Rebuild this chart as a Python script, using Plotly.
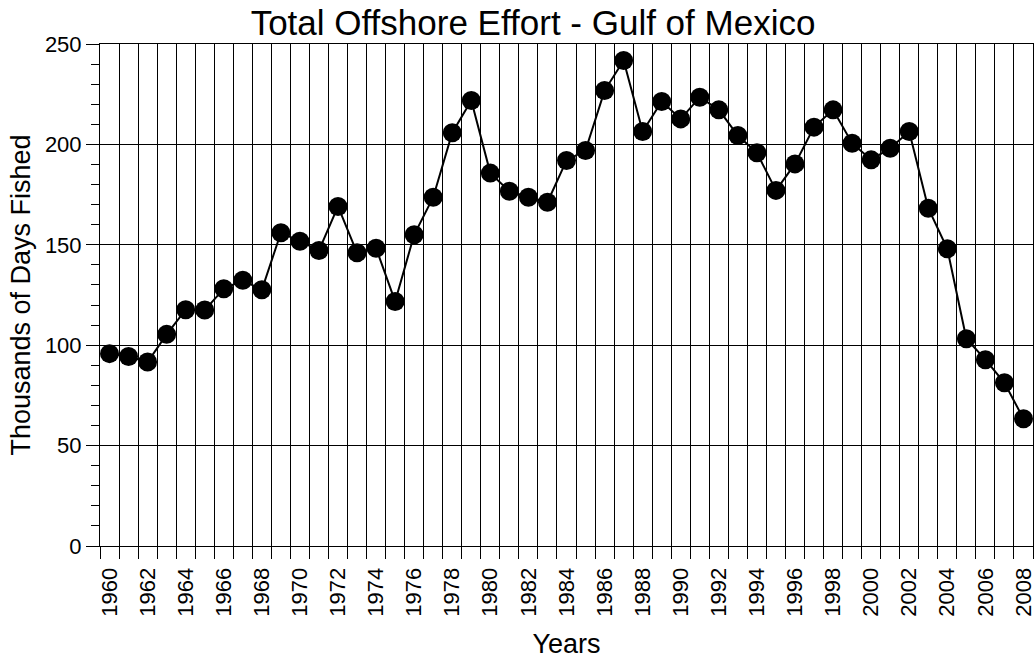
import plotly.graph_objects as go

# yearly offshore effort, thousands of days fished
years = list(range(1960, 2009))
days_fished = [
    95.8, 94.4, 91.6, 105.4, 117.7, 117.5, 128.1, 132.3, 127.6, 156.0,
    151.8, 147.2, 169.1, 146.0, 148.3, 121.8, 155.0, 173.7, 205.8, 221.9,
    185.7, 176.7, 173.7, 171.2, 192.0, 197.0, 226.8, 241.8, 206.4, 221.4,
    212.7, 223.5, 217.2, 204.4, 195.8, 177.1, 190.3, 208.6, 217.2, 200.6,
    192.3, 198.1, 206.4, 168.2, 148.0, 103.2, 92.8, 81.3, 63.4,
]
year_labels = list(range(1960, 2009, 2))
year_bounds = [y - 0.5 for y in range(1960, 2010)]

FONT = "Liberation Sans, Arial, sans-serif"

fig = go.Figure(go.Scatter(
    x=years,
    y=days_fished,
    mode="lines+markers",
    line=dict(color="black", width=2),
    marker=dict(color="black", size=19),
    showlegend=False,
))

fig.update_layout(
    width=1035,
    height=659,
    margin=dict(l=100, r=2, t=44, b=113),
    paper_bgcolor="white",
    plot_bgcolor="white",
    font=dict(family=FONT, color="black", size=22),
    title=dict(text="Total Offshore Effort - Gulf of Mexico", x=0.515, xanchor="center",
               y=0.966, yanchor="middle", font=dict(size=35, color="black")),
)

fig.update_xaxes(
    range=[1959.5, 2008.5],
    tickmode="array",
    tickvals=year_labels,
    ticktext=[str(y) for y in year_labels],
    tickangle=-90,
    ticks="outside",
    ticklen=12,
    tickcolor="rgba(0,0,0,0)",
    ticklabeloverflow="allow",
    showgrid=False,
    zeroline=False,
    showline=True,
    linecolor="black",
    linewidth=1,
    mirror=True,
    automargin=False,
    tickfont=dict(size=22),
    title=dict(text="Years", font=dict(size=27), standoff=22),
    minor=dict(tickmode="array", tickvals=year_bounds, ticks="outside", ticklen=12,
               tickcolor="black", showgrid=True, gridcolor="black", gridwidth=1),
)

fig.update_yaxes(
    range=[0, 250],
    tickmode="linear",
    tick0=0,
    dtick=50,
    ticks="outside",
    ticklen=13,
    tickcolor="black",
    showgrid=True,
    gridcolor="black",
    gridwidth=1,
    zeroline=False,
    showline=True,
    linecolor="black",
    linewidth=1,
    mirror=True,
    automargin=False,
    tickfont=dict(size=22),
    title=dict(text="Thousands of Days Fished", font=dict(size=27), standoff=6),
    minor=dict(dtick=10, ticks="outside", ticklen=8, tickcolor="black", showgrid=False),
)

# drop the page's default body margin so the figure sits at the window corner
fig.write_html("out.html", config={"displayModeBar": False},
               post_script="document.body.style.margin = '0';")
